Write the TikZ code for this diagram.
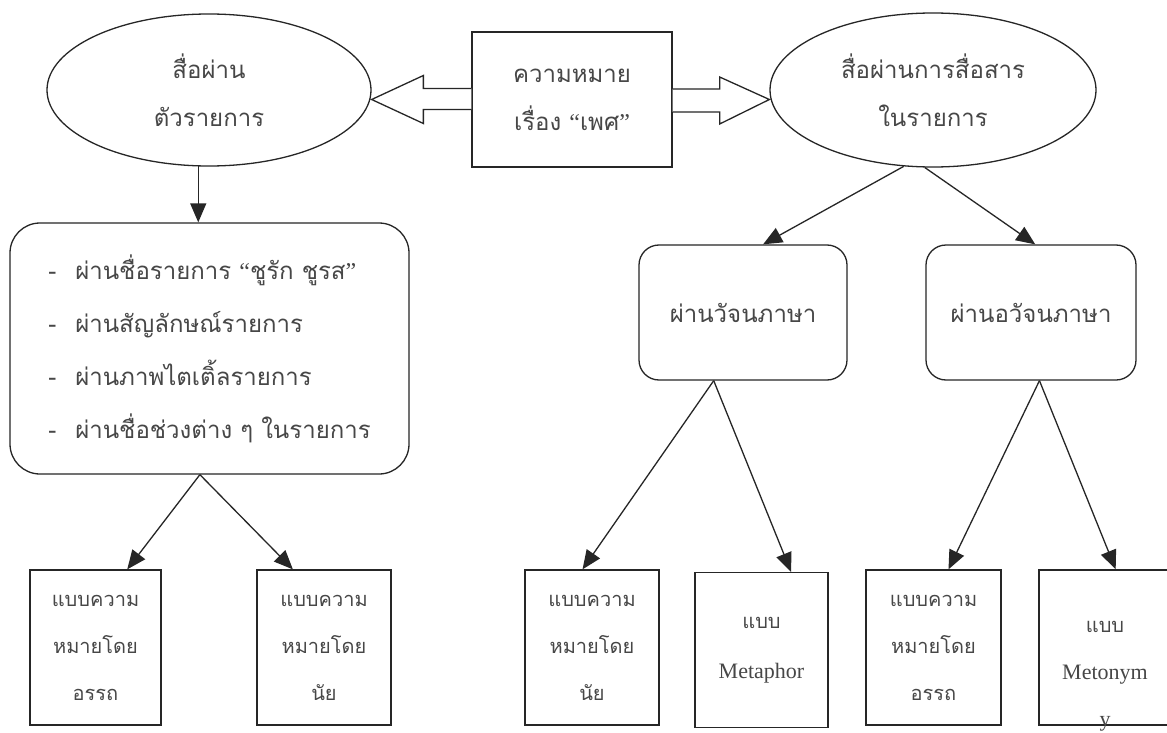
\documentclass[tikz,border=0pt]{standalone}
\usepackage{fontspec}
\newfontfamily\thai[Script=Thai]{Loma}
\newfontfamily\lat{Liberation Serif}
\newcommand{\oq}{{\lat “}}
\newcommand{\cq}{{\lat ”}}
\usetikzlibrary{arrows.meta,shapes.geometric,calc}
\begin{document}
\begin{tikzpicture}[x=1pt,y=-1pt,
  ln/.style={draw=black!85, line width=1.3pt},
  arr/.style={ln, -{Triangle[length=19pt,width=16pt]}},
  bigtxt/.style={text=black!72, font=\thai\fontsize{24}{48}\selectfont, align=center},
  smalltxt/.style={text=black!72, font=\thai\fontsize{20}{47}\selectfont, align=center},
  oval/.style={ln, ellipse, inner sep=0pt, bigtxt},
  plainbox/.style={ln, rectangle, inner sep=0pt, bigtxt},
  roundbox/.style={ln, rectangle, rounded corners=20pt, inner sep=0pt, bigtxt},
  leafbox/.style={ln, rectangle, inner sep=0pt, smalltxt, minimum height=155pt},
  blockarrow/.style={ln, fill=white, line join=miter}
]
\useasboundingbox (0,0) rectangle (1167,733);
\fill[white] (0,0) rectangle (1167,733);

% top row
\node[oval, minimum width=324pt, minimum height=152pt] (le) at (209,90) {สื่อผ่าน\\ตัวรายการ};
\node[plainbox, minimum width=200pt, minimum height=135pt] (mid) at (572,99.5) {ความหมาย\\เรื่อง \oq เพศ\cq};
\node[oval, minimum width=326pt, minimum height=154pt] (re) at (933,90) {สื่อผ่านการสื่อสาร\\ในรายการ};

% block arrows
\draw[blockarrow] let \p1=(mid.west), \p2=(le.east) in
  (\x1,\y1+11) -- (\x1-48,\y1+11) -- (\x1-48,\y1+24) -- (\x2,\y1)
  -- (\x1-48,\y1-24) -- (\x1-48,\y1-10) -- (\x1,\y1-10);
\draw[blockarrow] let \p1=(mid.east), \p2=(re.west) in
  (\x1,\y1+10.5) -- (\x1+47,\y1+10.5) -- (\x1+47,\y1+22.5) -- (\x2,\y1)
  -- (\x1+47,\y1-24.5) -- (\x1+47,\y1-12.5) -- (\x1,\y1-12.5);

% second row
\node[roundbox, rounded corners=30pt, minimum width=399pt, minimum height=251pt,
      align=left, font=\thai\fontsize{24}{53}\selectfont] (lb) at (209.5,348.5)
  {\makebox[27pt][l]{-}ผ่านชื่อรายการ \oq ชูรัก ชูรส\cq\\
   \makebox[27pt][l]{-}ผ่านสัญลักษณ์รายการ\\
   \makebox[27pt][l]{-}ผ่านภาพไตเติ้ลรายการ\\
   \makebox[27pt][l]{-}ผ่านชื่อช่วงต่าง ๆ ในรายการ};
\node[roundbox, minimum width=208pt, minimum height=135pt] (v1) at (743,312.5) {ผ่านวัจนภาษา};
\node[roundbox, minimum width=210pt, minimum height=135pt] (v2) at (1031,312.5) {ผ่านอวัจนภาษา};

% leaves
\node[leafbox, minimum width=131pt] (a1) at (95.5,647.5) {แบบความ\\หมายโดย\\อรรถ};
\node[leafbox, minimum width=134pt] (a2) at (324,647.5) {แบบความ\\หมายโดย\\นัย};
\node[leafbox, minimum width=134pt] (a3) at (592,647.5) {แบบความ\\หมายโดย\\นัย};
\node[leafbox, minimum width=133pt, font=\thai\fontsize{20}{50}\selectfont] (a4) at (761.5,650) {แบบ\\{\lat\fontsize{22}{50}\selectfont Metaphor}};
\node[leafbox, minimum width=135pt] (a5) at (933.5,647.5) {แบบความ\\หมายโดย\\อรรถ};
\node[leafbox, minimum width=132pt] (a6) at (1105,647.5) {};
\node[smalltxt, font=\thai\fontsize{20}{47}\selectfont, inner sep=0pt] (a6t) at (1105,676)
  {แบบ\\{\lat\fontsize{22}{47}\selectfont Metonym}\\{\lat\fontsize{22}{47}\selectfont y}};

% connectors
\draw[arr] (le.262) -- (le.262 |- lb.north);
\draw[arr] ($(lb.south west)!0.476!(lb.south east)$) -- ($(a1.north west)!0.74!(a1.north east)$);
\draw[arr] ($(lb.south west)!0.476!(lb.south east)$) -- ($(a2.north west)!0.27!(a2.north east)$);
\draw[arr] (re.249) -- ($(v1.north west)!0.596!(v1.north east)$);
\draw[arr] (re.264) -- ($(v2.north west)!0.52!(v2.north east)$);
\draw[arr] ($(v1.south west)!0.36!(v1.south east)$) -- ($(a3.north west)!0.43!(a3.north east)$);
\draw[arr] ($(v1.south west)!0.36!(v1.south east)$) -- ($(a4.north west)!0.72!(a4.north east)$);
\draw[arr] ($(v2.south west)!0.54!(v2.south east)$) -- ($(a5.north west)!0.61!(a5.north east)$);
\draw[arr] ($(v2.south west)!0.54!(v2.south east)$) -- ($(a6.north west)!0.58!(a6.north east)$);
\end{tikzpicture}
\end{document}
